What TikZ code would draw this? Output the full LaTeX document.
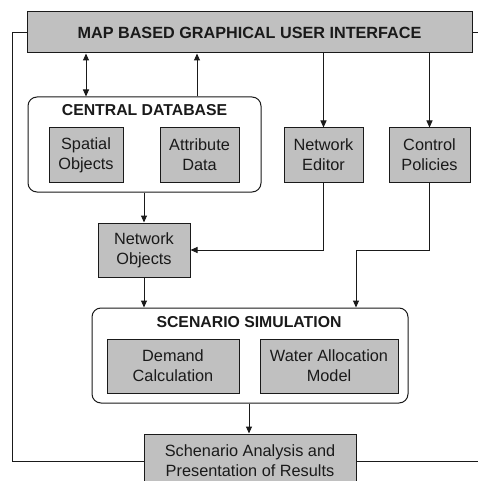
\documentclass[tikz,border=0pt]{standalone}
\usepackage{fontspec}
\setmainfont{Liberation Sans}
\usetikzlibrary{arrows.meta}
\definecolor{boxgray}{HTML}{C0C0C0}
\definecolor{ink}{HTML}{1A1A1A}
\tikzset{
  graybox/.style={draw=ink, fill=boxgray, line width=1pt, align=center, inner sep=0pt,
    text=ink, font=\fontsize{16.3}{20}\selectfont},
  groupbox/.style={draw=ink, rounded corners=9pt, line width=1pt, inner sep=0pt},
  titletext/.style={text=ink, font=\bfseries\fontsize{15.8}{18}\selectfont, inner sep=0pt},
  conn/.style={draw=ink, line width=1pt},
  arr/.style={conn, -{Triangle[length=7pt,width=6pt]}},
  darr/.style={conn, {Triangle[length=7pt,width=6pt]}-{Triangle[length=7pt,width=6pt]}}
}
\begin{document}
\begin{tikzpicture}[x=1pt,y=-1pt]
\useasboundingbox (0,0) rectangle (478,481);
\clip (0,0) rectangle (478,481);
\fill[white] (0,0) rectangle (478,481);

% GUI
\node[graybox, minimum width=445pt, minimum height=41pt] (gui) at (249.5,32.5) {};
\node[titletext, font=\bfseries\fontsize{16.2}{18}\selectfont] (guit) at (249.5,32.5) {MAP BASED GRAPHICAL USER INTERFACE};

% Central database
\node[groupbox, minimum width=233pt, minimum height=95pt] (db) at (144.5,144.5) {};
\node[titletext] (dbt) at (144.5,110) {CENTRAL DATABASE};
\node[graybox, minimum width=74pt, minimum height=54pt] (spatial) at (86,155) {Spatial\\Objects};
\node[graybox, minimum width=79pt, minimum height=54pt] (attr) at (199.5,155) {Attribute\\Data};

\node[graybox, minimum width=79pt, minimum height=54pt] (ned) at (323.5,155) {Network\\Editor};
\node[graybox, minimum width=81pt, minimum height=54pt] (ctrl) at (429.5,155) {Control\\Policies};

\node[graybox, minimum width=92pt, minimum height=54pt] (netobj) at (144,250) {Network\\Objects};

% Scenario simulation
\node[groupbox, minimum width=316pt, minimum height=95pt] (sim) at (250,355.5) {};
\node[titletext] (simt) at (249,322) {SCENARIO SIMULATION};
\node[graybox, minimum width=132pt, minimum height=54pt] (demand) at (173,366) {Demand\\Calculation};
\node[graybox, minimum width=138pt, minimum height=54pt] (wam) at (329,366) {Water Allocation\\Model};

\node[graybox, minimum width=212pt, minimum height=54pt] (results) at (250,461) {Schenario Analysis and\\Presentation of Results};

% connectors
\draw[darr] (gui.south -| spatial) -- (db.north -| spatial);
\draw[arr] (db.north -| 197,0) -- (gui.south -| 197,0);
\draw[arr] (gui.south -| ned) -- (ned.north);
\draw[arr] (gui.south -| ctrl) -- (ctrl.north);
\draw[arr] (db.south -| netobj) -- (netobj.north);
\draw[arr] (ned.south) |- (netobj.east);
\coordinate (cb) at (356,250);
\draw[arr] (ctrl.south) |- (cb) -- (cb |- sim.north);
\draw[arr] (netobj.south) -- (sim.north -| netobj);
\draw[arr] (sim.south -| 249,0) -- (results.north -| 249,0);
\coordinate (lc) at (12,33);
\draw[conn] (results.west) -| (lc) -- (gui.west |- lc);
\coordinate (rtop) at (485,33);
\coordinate (rbot) at (485,461);
\draw[conn] (gui.east |- rtop) -- (rtop);
\draw[conn] (results.east) -- (rbot);
\end{tikzpicture}
\end{document}
